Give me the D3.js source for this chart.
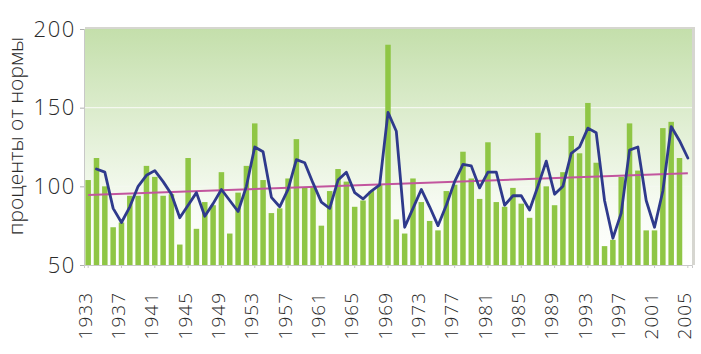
<!DOCTYPE html>
<html>
<head>
<meta charset="utf-8">
<script src="https://cdn.jsdelivr.net/npm/d3@7"></script>
<style>
  body { margin: 0; background: #fff; }
  svg text { font-family: "Open Sans", sans-serif; font-weight: 300; fill: #2a2a2a; }
</style>
</head>
<body>
<script>
(() => {

    // годы и значения (проценты от нормы)
    var years = d3.range(1933, 2006);

    var barValues = [
        104, 118, 100, 74, 77, 94, 94, 113, 106, 94,
        95, 63, 118, 73, 90, 88, 109, 70, 96, 113,
        140, 104, 83, 86, 105, 130, 99, 100, 75, 97,
        111, 103, 87, 91, 97, 101, 190, 79, 70, 105,
        90, 78, 72, 97, 101, 122, 105, 92, 128, 90,
        87, 99, 89, 80, 134, 100, 88, 109, 132, 121,
        153, 115, 62, 66, 106, 140, 110, 72, 72, 137,
        141, 118
    ]; // 1933..2004

    var lineValues = [
        111, 109, 86, 77, 87, 100, 107, 110, 103, 95,
        80, 88, 96, 81, 89, 98, 91, 84, 100, 125,
        122, 93, 87, 98, 117, 115, 102, 90, 86, 104,
        109, 96, 92, 97, 101, 147, 135, 74, 86, 98,
        87, 75, 88, 103, 114, 113, 99, 109, 109, 88,
        94, 94, 85, 100, 116, 95, 100, 121, 125, 137,
        134, 91, 67, 83, 123, 125, 91, 74, 97, 138,
        129, 118
    ]; // 1934..2005

    var trendYears = [1933, 2005],
        trendValues = [94.5, 108.3];

    var yTicks = [50, 100, 150, 200];
    var xTickYears = d3.range(1933, 2006, 4);

    var w = 701,
        h = 354;

    var margin = {
        top: 29,
        bottom: 89,
        left: 84,
        right: 9
    };

    var svg = d3.select("body").append("svg")
        .attr("width", w).attr("height", h);

    var iw = w - margin.left - margin.right,
        ih = h - margin.top - margin.bottom;

    var x = d3.scaleBand().domain(years).range([0, iw]).paddingInner(0.34).paddingOuter(0.17);
    var y = d3.scaleLinear().domain([50, 200]).range([ih, 0]);
    var cx = d => x(d) + x.bandwidth() / 2;

    // фон с градиентом
    var defs = svg.append("defs");
    var grad = defs.append("linearGradient").attr("id", "bg")
        .attr("x1", 0).attr("y1", 0).attr("x2", 0).attr("y2", 1);
    grad.append("stop").attr("offset", "0%").attr("stop-color", "#c4dfab");
    grad.append("stop").attr("offset", "45%").attr("stop-color", "#e3f0d7");
    grad.append("stop").attr("offset", "75%").attr("stop-color", "#f7fbf3");
    grad.append("stop").attr("offset", "100%").attr("stop-color", "#ffffff");

    var g = svg.append("g").attr("transform", "translate(" + [margin.left, margin.top] + ")");

    // тень рамки сверху и справа
    g.append("rect").attr("x", 1).attr("y", -2).attr("width", iw + 2).attr("height", ih + 2)
        .attr("fill", "#d6d6d0");
    g.append("rect").attr("x", 0).attr("y", 0).attr("width", iw).attr("height", ih)
        .attr("fill", "url(#bg)");

    // сетка
    g.selectAll(".grid").data([100, 150]).enter().append("line")
        .attr("class", "grid")
        .attr("x1", 0).attr("x2", iw)
        .attr("y1", d => y(d)).attr("y2", d => y(d))
        .attr("stroke", "#f4f8ef").attr("stroke-width", 1.2);

    // столбцы
    g.selectAll(".bar").data(barValues).enter().append("rect")
        .attr("class", "bar")
        .attr("x", (d, i) => x(years[i]))
        .attr("width", x.bandwidth())
        .attr("y", d => y(d))
        .attr("height", d => y(50) - y(d))
        .attr("fill", "#8fc645");

    // линия тренда
    g.append("path")
        .datum(trendYears.map((yr, i) => [yr, trendValues[i]]))
        .attr("fill", "none")
        .attr("stroke", "#c2559e")
        .attr("stroke-width", 2)
        .attr("d", d3.line().x(d => cx(d[0])).y(d => y(d[1])));

    // сглаженная линия
    g.append("path")
        .datum(lineValues.map((v, i) => [1934 + i, v]))
        .attr("fill", "none")
        .attr("stroke", "#2f3a8c")
        .attr("stroke-width", 2.8)
        .attr("stroke-linejoin", "round")
        .attr("stroke-linecap", "round")
        .attr("d", d3.line().x(d => cx(d[0])).y(d => y(d[1])));

    // ось Y
    var yAxis = g.append("g")
        .call(d3.axisLeft(y).tickValues(yTicks).tickSize(4).tickPadding(4));
    yAxis.select(".domain").attr("stroke", "#c8c8c8");
    yAxis.selectAll(".tick line").attr("stroke", "#b0b0b0");
    yAxis.selectAll("text")
        .style("font-size", "22px")
        .style("letter-spacing", "1.6px")
        .attr("fill", "#2a2a2a");

    // ось X
    var xAxis = g.append("g").attr("transform", "translate(0," + ih + ")")
        .call(d3.axisBottom(x).tickValues(xTickYears).tickSize(3).tickPadding(0));
    xAxis.select(".domain").attr("stroke", "#c8c8c8");
    xAxis.selectAll(".tick line").attr("stroke", "#c8c8c8");
    xAxis.selectAll("text")
        .style("font-size", "19px")
        .style("letter-spacing", "1px")
        .attr("text-anchor", "end")
        .attr("dy", "0.35em")
        .attr("transform", "translate(-3,27) rotate(-90)")
        .attr("x", 0).attr("y", 0);

    // подпись оси Y
    svg.append("text")
        .attr("transform", "translate(" + [23, 136] + ") rotate(-90)")
        .attr("text-anchor", "middle")
        .style("font-size", "21px")
        .text("проценты от нормы");

})()
</script>
</body>
</html>
